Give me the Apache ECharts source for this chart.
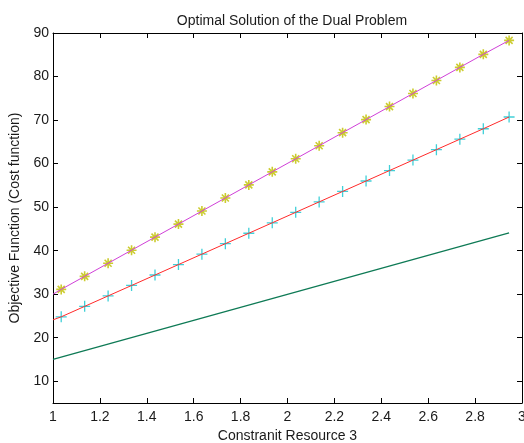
<!DOCTYPE html>
<html>
<head>
<meta charset="utf-8">
<script src="https://cdn.jsdelivr.net/npm/echarts@6/dist/echarts.min.js"></script>
<style>html,body{margin:0;padding:0;background:#fff;}#c{width:524px;height:443px;}</style>
</head>
<body>
<div id="c"></div>
<script>
// Data
var xMarkers = [1.035, 1.135, 1.235, 1.335, 1.435, 1.535, 1.635, 1.735, 1.835, 1.935,
                2.035, 2.135, 2.235, 2.335, 2.435, 2.535, 2.635, 2.735, 2.835, 2.945];
var upperValues = [31.1, 34.1, 37.1, 40.1, 43.1, 46.1, 49.1, 52.1, 55.1, 58.1,
                   61.1, 64.1, 67.1, 70.1, 73.1, 76.1, 79.1, 82.1, 85.1, 88.3];
var middleValues = [24.8, 27.2, 29.6, 32.0, 34.4, 36.8, 39.2, 41.6, 44.0, 46.4,
                    48.8, 51.2, 53.6, 56.0, 58.4, 60.8, 63.2, 65.6, 68.0, 70.7];
var upperStart = [1, 30.0];
var middleStart = [1, 24.1];
var lowerX = [1, 2.945];
var lowerValues = [15.0, 44.1];
var xTicks = [1, 1.2, 1.4, 1.6, 1.8, 2, 2.2, 2.4, 2.6, 2.8, 3];
var yTicks = [10, 20, 30, 40, 50, 60, 70, 80, 90];
var titleText = 'Optimal Solution of the Dual Problem';
var xName = 'Constranit Resource 3';
var yName = 'Objective Function (Cost function)';

function pairs(xs, ys) { return xs.map(function (x, i) { return [x, ys[i]]; }); }

var plusPath = 'path://M5,0L5,10M0,5L10,5';
var starPath = 'path://M5,0L5,10M0,5L10,5M1.5,1.5L8.5,8.5M8.5,1.5L1.5,8.5';
var font = 'Liberation Sans, Arial, Helvetica, sans-serif';
var txt = '#1a1a1a';

var chart = echarts.init(document.getElementById('c'), null, {renderer: 'canvas'});
var axisLine = {show: true, onZero: false, lineStyle: {color: '#000', width: 1}};
var tick = {show: true, inside: true, length: 5, lineStyle: {color: '#000', width: 1}};
chart.setOption({
  animation: false,
  backgroundColor: '#fff',
  title: {text: titleText, left: 287, top: 9, textAlign: 'center',
    textStyle: {fontFamily: font, fontSize: 14, fontWeight: 'normal', color: txt}},
  grid: {left: 53, top: 33, right: 2, bottom: 40, containLabel: false, outerBoundsMode: 'none'},
  xAxis: [{
    type: 'value', min: 1, max: 3, position: 'bottom',
    name: xName, nameLocation: 'middle', nameGap: 23,
    nameTextStyle: {fontFamily: font, fontSize: 14, color: txt},
    axisLine: axisLine,
    axisTick: Object.assign({customValues: xTicks}, tick),
    axisLabel: {customValues: xTicks, margin: 7, fontFamily: font, fontSize: 14, color: txt,
      formatter: function (v) { return String(Math.round(v * 10) / 10); }},
    splitLine: {show: false}
  }, {
    type: 'value', min: 1, max: 3, position: 'top',
    axisLine: axisLine,
    axisTick: Object.assign({customValues: xTicks}, tick),
    axisLabel: {show: false}, splitLine: {show: false}
  }],
  yAxis: [{
    type: 'value', min: 5, max: 90, position: 'left',
    name: yName, nameLocation: 'middle', nameGap: 28,
    nameTextStyle: {fontFamily: font, fontSize: 14, color: txt},
    axisLine: axisLine,
    axisTick: Object.assign({customValues: yTicks}, tick),
    axisLabel: {customValues: yTicks, margin: 4, fontFamily: font, fontSize: 14, color: txt},
    splitLine: {show: false}
  }, {
    type: 'value', min: 5, max: 90, position: 'right',
    axisLine: axisLine,
    axisTick: Object.assign({customValues: yTicks}, tick),
    axisLabel: {show: false}, splitLine: {show: false}
  }],
  series: [
    {type: 'line', data: pairs(lowerX, lowerValues), symbol: 'none',
      lineStyle: {color: '#0e7a55', width: 1.3}},
    {type: 'line', data: [middleStart].concat(pairs(xMarkers, middleValues)), symbol: 'none',
      lineStyle: {color: '#ff2a2a', width: 1}},
    {type: 'line', data: [upperStart].concat(pairs(xMarkers, upperValues)), symbol: 'none',
      lineStyle: {color: '#d040d8', width: 1}},
    {type: 'scatter', data: pairs(xMarkers, middleValues), symbol: plusPath, symbolSize: 11,
      itemStyle: {color: 'none', borderColor: '#40d0d8', borderWidth: 1.3, opacity: 1}},
    {type: 'scatter', data: pairs(xMarkers, upperValues), symbol: starPath, symbolSize: 10,
      itemStyle: {color: 'none', borderColor: '#cccc30', borderWidth: 1.6, opacity: 1}}
  ]
});
</script>
</body>
</html>
